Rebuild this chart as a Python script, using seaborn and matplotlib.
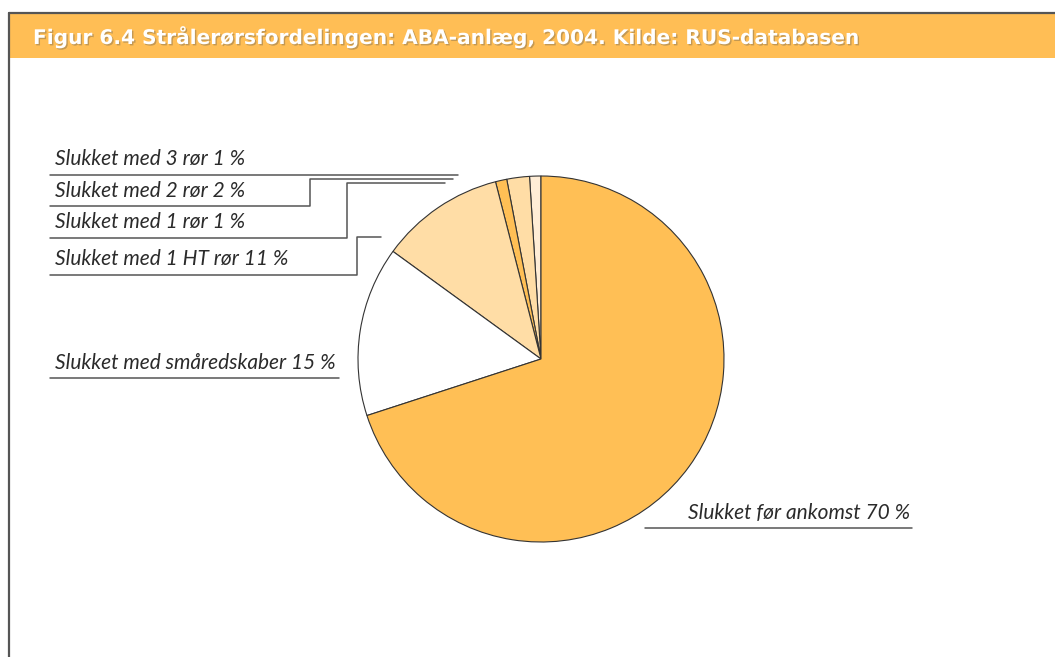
import matplotlib
matplotlib.use("Agg")
import matplotlib.pyplot as plt
import matplotlib.patheffects as pe
from matplotlib.patches import Rectangle
import seaborn as sns

# data
title = "Figur 6.4 Strålerørsfordelingen: ABA-anlæg, 2004. Kilde: RUS-databasen"
labels = ["Slukket med 3 rør", "Slukket med 2 rør", "Slukket med 1 rør",
          "Slukket med 1 HT rør", "Slukket med småredskaber", "Slukket før ankomst"]
shares = [1, 2, 1, 11, 15, 70]
colors = ["#FFEDD6", "#FFDDA6", "#FFBF55", "#FFDDA6", "#FFFFFF", "#FFBF55"]

# label layout in pixels (text anchor, leader line)
label_pos = [(55, 159, "left"), (55, 191, "left"), (55, 222, "left"),
             (55, 259, "left"), (55, 363, "left"), (910, 513, "right")]
leaders = [
    [(50, 175), (458, 175)],
    [(50, 206), (310, 206), (310, 179), (453, 179)],
    [(50, 238), (347, 238), (347, 183), (445, 183)],
    [(50, 275), (357, 275), (357, 237), (381, 237)],
    [(50, 378), (339, 378)],
    [(645, 528), (912, 528)],
]

W, H = 1055, 657
sns.set_theme(style="white")
plt.rcParams["font.family"] = ["Lato", "DejaVu Sans"]


def py(y):
    return H - y


fig = plt.figure(figsize=(W / 100, H / 100), dpi=100)
ax = fig.add_axes([0, 0, 1, 1])

# pie
ax.pie(shares, colors=colors, startangle=90, counterclock=True,
       center=(541, py(359)), radius=183,
       wedgeprops=dict(edgecolor="#333333", linewidth=0.8))

ax.set_xlim(0, W)
ax.set_ylim(0, H)
ax.set_aspect("auto")
ax.axis("off")

# frame + header band
ax.add_patch(Rectangle((8, py(58)), W - 8, 44, facecolor="#FFBE55", edgecolor="none"))
ax.plot([8.5, 8.5], [0, py(13)], color="#555555", lw=1.6)
ax.plot([8.5, W], [py(13), py(13)], color="#555555", lw=1.6)
ax.text(33, py(37), title, color="white", fontsize=14.5, fontweight="bold",
        family=["DejaVu Sans"], va="center",
        path_effects=[pe.withSimplePatchShadow(offset=(1, -1), shadow_rgbFace="#7a6a50", alpha=0.45)])

# labels with leader lines
for lab, val, (tx, ty, ha), pts in zip(labels, shares, label_pos, leaders):
    ax.text(tx, py(ty), f"{lab} {val} %", fontsize=15, style="italic",
            color="#2b2b2b", ha=ha, va="center")
    xs = [p[0] for p in pts]
    ys = [py(p[1]) for p in pts]
    ax.plot(xs, ys, color="#555555", lw=1.1)

fig.savefig("out.png", dpi=100)
